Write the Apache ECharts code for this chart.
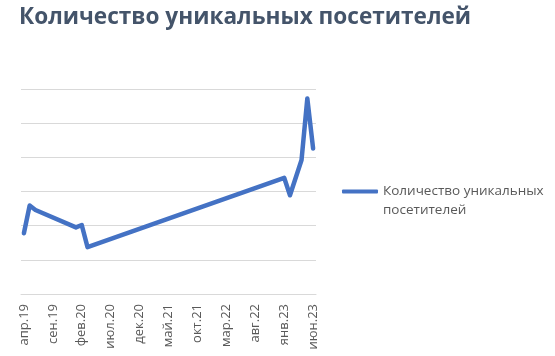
<!DOCTYPE html>
<html>
<head>
<meta charset="utf-8">
<script src="https://cdn.jsdelivr.net/npm/echarts@6/dist/echarts.min.js"></script>
<style>
html,body{margin:0;padding:0;background:#fff;}
#chart{width:555px;height:356px;}
</style>
</head>
<body>
<div id="chart"></div>
<script>
const titleText = 'Количество уникальных посетителей';
const seriesName = 'Количество уникальных посетителей';
const categories = ['апр.19','май.19','июн.19','июл.19','авг.19','сен.19','окт.19','ноя.19','дек.19',
  'янв.20','фев.20','мар.20','апр.20','май.20','июн.20','июл.20','авг.20','сен.20','окт.20','ноя.20','дек.20',
  'янв.21','фев.21','мар.21','апр.21','май.21','июн.21','июл.21','авг.21','сен.21','окт.21','ноя.21','дек.21',
  'янв.22','фев.22','мар.22','апр.22','май.22','июн.22','июл.22','авг.22','сен.22','окт.22','ноя.22','дек.22',
  'янв.23','фев.23','мар.23','апр.23','май.23','июн.23'];
// months that have a measurement, and their (estimated) values
const pointMonths = ['апр.19','май.19','июн.19','янв.20','фев.20','мар.20','янв.23','фев.23','апр.23','май.23','июн.23'];
const pointValues = [1780, 2590, 2460, 1950, 2020, 1370, 3400, 2890, 3920, 5720, 4260];

const seriesData = categories.map(c => {
  const k = pointMonths.indexOf(c);
  return k >= 0 ? pointValues[k] : null;
});

const chart = echarts.init(document.getElementById('chart'), null, {renderer: 'canvas'});
chart.setOption({
  animation: false,
  backgroundColor: '#ffffff',
  title: {
    text: titleText,
    left: 14,
    top: 1,
    textStyle: {fontFamily: 'Open Sans', fontWeight: 'bold', fontSize: 22.6, color: '#44546A'}
  },
  legend: {
    data: [seriesName],
    left: 337,
    top: 158,
    itemWidth: 36,
    itemHeight: 4,
    icon: 'roundRect',
    itemGap: 4,
    formatter: () => '\nКоличество уникальных\nпосетителей',
    textStyle: {fontFamily: 'Open Sans', fontSize: 13.5, color: '#595959', lineHeight: 19}
  },
  grid: {left: 21, right: 239, top: 89, bottom: 62},
  xAxis: {
    type: 'category',
    data: categories,
    boundaryGap: true,
    axisLine: {show: true, lineStyle: {color: '#d9d9d9', width: 1}},
    axisTick: {show: false},
    axisLabel: {interval: 4, rotate: 90, margin: 10, fontFamily: 'Open Sans', fontSize: 13, color: '#595959'},
    splitLine: {show: false}
  },
  yAxis: {
    type: 'value',
    min: 0,
    max: 6000,
    interval: 1000,
    axisLabel: {show: false},
    axisLine: {show: false},
    axisTick: {show: false},
    splitLine: {show: true, lineStyle: {color: '#d9d9d9', width: 1}}
  },
  series: [{
    name: seriesName,
    type: 'line',
    data: seriesData,
    connectNulls: true,
    showSymbol: false,
    symbol: 'none',
    color: '#4472C4',
    lineStyle: {color: '#4472C4', width: 4.5, cap: 'round', join: 'round'}
  }]
});
</script>
</body>
</html>
